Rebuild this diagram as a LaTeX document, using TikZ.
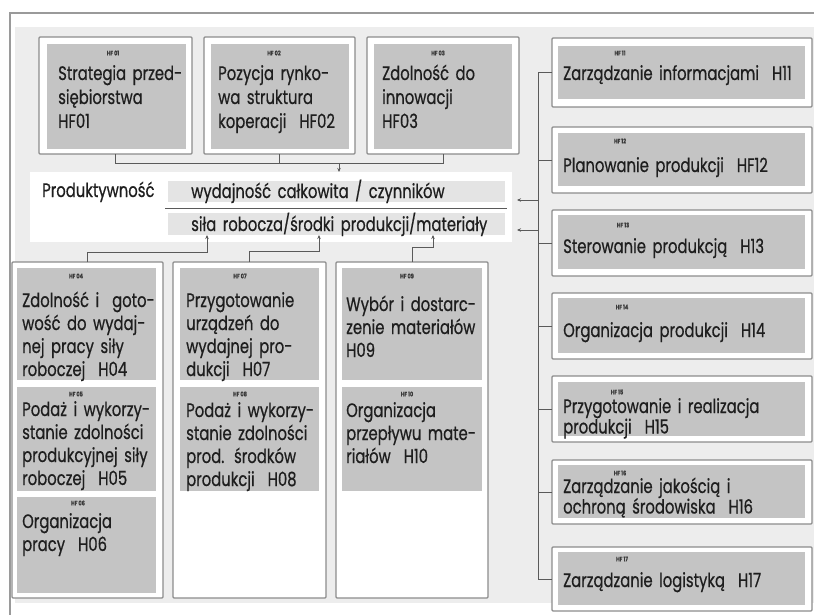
\documentclass[tikz,border=0pt]{standalone}
\usepackage{fontspec}
\setmainfont{Poppins}
\newfontfamily\colf{Poppins}[FakeStretch=0.76,FakeBold=0.6]
\usetikzlibrary{fit,arrows.meta}
\definecolor{bgl}{HTML}{EDEDED}
\definecolor{bord}{HTML}{8C8C8C}
\definecolor{gfill}{HTML}{C4C4C4}
\definecolor{barf}{HTML}{E4E4E4}
\definecolor{txtc}{HTML}{1E1E1E}
\definecolor{conc}{HTML}{5A5A5A}
\definecolor{labc}{HTML}{3A3A3A}
\definecolor{framec}{HTML}{9A9A9A}
\begin{document}
\begin{tikzpicture}[x=1pt,y=-1pt,
  obox/.style={draw=bord, fill=white, line width=1.2pt, inner sep=0pt, outer sep=0pt, rounded corners=1pt},
  gbox/.style={fill=gfill, draw=none, inner sep=0pt, outer sep=0pt},
  barbox/.style={fill=barf, draw=none, inner sep=0pt, outer sep=0pt},
  panel/.style={fill=white, draw=none, inner sep=0pt, outer sep=0pt},
  txt/.style={anchor=base west, inner sep=0pt, align=left, text width=400pt, text=txtc},
  tbig/.style={txt, font=\colf\fontsize{19.5}{24}\selectfont},
  tcol/.style={txt, font=\colf\fontsize{19.5}{23}\selectfont},
  tpan/.style={txt, font=\colf\fontsize{19.5}{20}\selectfont},
  trt/.style={txt, font=\colf\fontsize{19.5}{20.5}\selectfont},
  lab/.style={inner sep=0pt, text=labc, font=\colf\fontsize{6.5}{7}\selectfont\bfseries},
  conn/.style={draw=conc, line width=0.9pt},
  arr/.style={conn, -{Stealth[length=4pt,width=3.5pt]}}
]
\useasboundingbox (0,0) rectangle (814,615);
\fill[white] (0,0) rectangle (814,615);
% background and frame
\fill[bgl] (15,27) rectangle (814,603);
\draw[framec, line width=1.5pt] (10,615) -- (10,13) -- (814,13);

% top boxes
\node[obox, fit={(39,37) (192,154)}] (o1) {};
\node[obox, fit={(204,37) (355,154)}] (o2) {};
\node[obox, fit={(367,37) (519,154)}] (o3) {};
\node[gbox, fit={(47,44) (186,149)}] (g1) {};
\node[gbox, fit={(211,44) (349,149)}] (g2) {};
\node[gbox, fit={(374,44) (512,149)}] (g3) {};
\node[lab] (l01) at (113,53) {HF 01};
\node[lab] (l02) at (274,53) {HF 02};
\node[lab] (l03) at (438,53) {HF 03};
\node[tbig] (t01) at (58,80) {Strategia przed-\\siębiorstwa\\HF01};
\node[tbig] (t02) at (218,80) {Pozycja rynko-\\wa struktura\\koperacji~ HF02};
\node[tbig] (t03) at (382,80) {Zdolność do\\innowacji\\HF03};

% productivity panel
\node[panel, fit={(30,172) (512,242)}] (P) {};
\node[barbox, fit={(168,181) (505,202)}] (b1) {};
\node[barbox, fit={(168,213) (505,235)}] (b2) {};
\draw[conc, line width=1pt] (165,208) -- (507,208);
\node[tpan] (tp) at (42,197) {Produktywność};
\node[tpan] (tw) at (191,198) {wydajność całkowita / czynników};
\node[tpan] (ts) at (191,231) {siła robocza/środki produkcji/materiały};

% top connectors
\coordinate (j) at (339,163);
\draw[conn] (o1.south) -- ++(0,9) -| (o3.south);
\draw[conn] (o2.south) -- ++(0,9);
\draw[arr] (j) -- (j |- P.north);

% bottom columns
\node[obox, fit={(12,262) (163,598)}] (c1) {};
\node[obox, fit={(173,262) (326,598)}] (c2) {};
\node[obox, fit={(336,262) (488,598)}] (c3) {};
\node[gbox, fit={(17,268) (156,380)}] (g4) {};
\node[gbox, fit={(17,387) (156,491)}] (g5) {};
\node[gbox, fit={(17,497) (156,593)}] (g6) {};
\node[gbox, fit={(180,268) (319,380)}] (g7) {};
\node[gbox, fit={(180,387) (319,491)}] (g8) {};
\node[gbox, fit={(342,268) (482,380)}] (g9) {};
\node[gbox, fit={(342,387) (482,491)}] (g10) {};
\node[lab] (l04) at (76,276) {HF 04};
\node[lab] (l05) at (76,394) {HF 05};
\node[lab] (l06) at (78,503) {HF 06};
\node[lab] (l07) at (240,276) {HF 07};
\node[lab] (l08) at (240,394) {HF 08};
\node[lab] (l09) at (407,276) {HF 09};
\node[lab] (l10) at (407,394) {HF 10};
\node[tcol] (t04) at (22,307) {Zdolność i~ goto-\\wość do wydaj-\\nej pracy siły\\roboczej~ H04};
\node[tcol] (t05) at (22,416) {Podaż i wykorzy-\\stanie zdolności\\produkcyjnej siły\\roboczej~ H05};
\node[tcol] (t06) at (22,528) {Organizacja\\pracy~ H06};
\node[tcol] (t07) at (186,307) {Przygotowanie\\urządzeń do\\wydajnej pro-\\dukcji~ H07};
\node[tcol] (t08) at (186,417) {Podaż i wykorzy-\\stanie zdolności\\prod. środków\\produkcji~ H08};
\node[tcol] (t09) at (346,311) {Wybór i dostarc-\\zenie materiałów\\H09};
\node[tcol] (t10) at (346,417) {Organizacja\\przepływu mate-\\riałów~ H10};

% bottom connectors
\coordinate (u1) at (207,235);
\coordinate (u2) at (319,235);
\coordinate (u3) at (433,235);
\draw[arr] (c1.north) -- ++(0,-10) -| (u1);
\draw[arr] (c2.north) -- ++(0,-11) -| (u2);
\draw[arr] (c3.north) -- ++(0,-15) -| (u3);

% right column
\node[obox, fit={(552,38) (812,107)}] (r11) {};
\node[obox, fit={(552,127) (812,193)}] (r12) {};
\node[obox, fit={(552,210) (812,276)}] (r13) {};
\node[obox, fit={(552,293) (812,359)}] (r14) {};
\node[obox, fit={(552,376) (812,442)}] (r15) {};
\node[obox, fit={(552,460) (812,524)}] (r16) {};
\node[obox, fit={(552,547) (812,611)}] (r17) {};
\node[gbox, fit={(558,46) (805,99)}] (g11) {};
\node[gbox, fit={(558,133) (805,186)}] (g12) {};
\node[gbox, fit={(558,215) (805,269)}] (g13) {};
\node[gbox, fit={(558,298) (805,353)}] (g14) {};
\node[gbox, fit={(558,382) (805,436)}] (g15) {};
\node[gbox, fit={(558,465) (805,518)}] (g16) {};
\node[gbox, fit={(558,552) (805,605)}] (g17) {};
\node[lab] (l11) at (620,53) {HF 11};
\node[lab] (l12) at (620,141) {HF 12};
\node[lab] (l13) at (623,225) {HF 13};
\node[lab] (l14) at (622,307) {HF 14};
\node[lab] (l15) at (617,392) {HF 15};
\node[lab] (l16) at (620,473) {HF 16};
\node[lab] (l17) at (622,559) {HF 17};
\node[trt] (t11) at (563,80) {Zarządzanie informacjami~ H11};
\node[trt] (t12) at (563,172) {Planowanie produkcji~ HF12};
\node[trt] (t13) at (563,253) {Sterowanie produkcją~ H13};
\node[trt] (t14) at (563,337) {Organizacja produkcji~ H14};
\node[trt] (t15) at (563,413) {Przygotowanie i realizacja\\produkcji~ H15};
\node[trt] (t16) at (563,493) {Zarządzanie jakością i\\ochroną środowiska~ H16};
\node[trt] (t17) at (563,587) {Zarządzanie logistyką~ H17};

% right bracket
\coordinate (bx) at (538,0);
\draw[conn] (r11.west) -| (bx |- r17.west) -- (r17.west);
\draw[conn] (r12.west) -- (bx |- r12.west);
\draw[conn] (r13.west) -- (bx |- r13.west);
\draw[conn] (r14.west) -- (bx |- r14.west);
\draw[conn] (r15.west) -- (bx |- r15.west);
\draw[conn] (r16.west) -- (bx |- r16.west);
\coordinate (a1) at (517,200);
\coordinate (a2) at (517,230);
\draw[arr] (bx |- a1) -- (a1);
\draw[arr] (bx |- a2) -- (a2);
\end{tikzpicture}
\end{document}
